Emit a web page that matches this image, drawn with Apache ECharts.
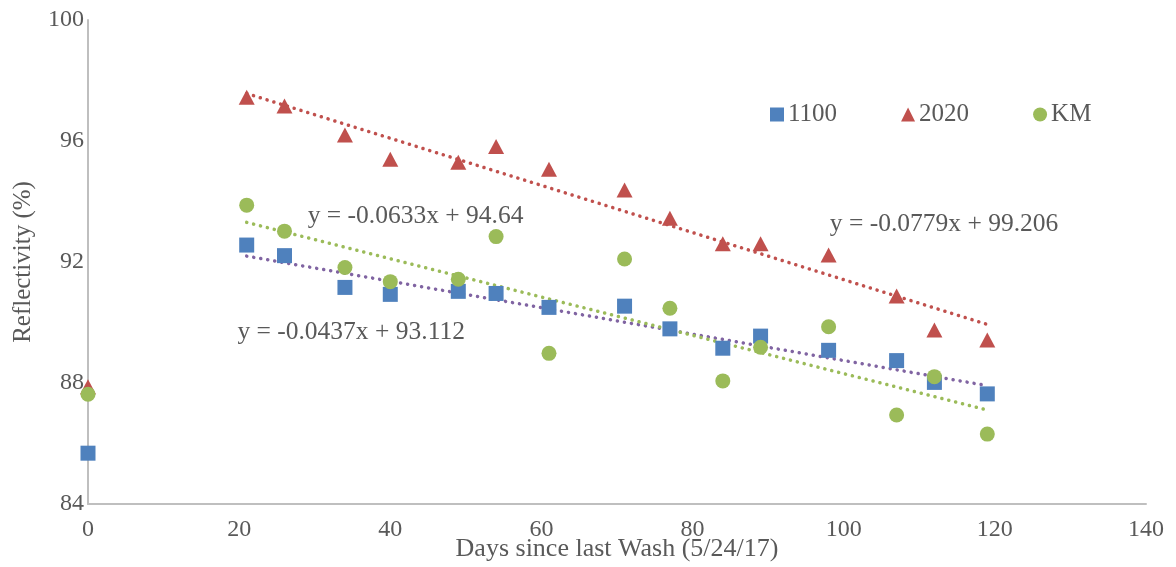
<!DOCTYPE html>
<html>
<head>
<meta charset="utf-8">
<script src="https://cdn.jsdelivr.net/npm/echarts@6/dist/echarts.min.js"></script>
<style>
  html, body { margin: 0; padding: 0; background: #fff; }
  #chart { width: 1176px; height: 567px; }
</style>
</head>
<body>
<div id="chart"></div>
<script>
// days since last wash
const days = [0, 21, 26, 34, 40, 49, 54, 61, 71, 77, 84, 89, 98, 107, 112, 119];

// reflectivity (%)
const r1100 = [85.68, 92.56, 92.21, 91.16, 90.93, 91.03, 90.96, 90.5, 90.54, 89.79, 89.15, 89.55, 89.08, 88.74, 88.02, 87.64];
const r2020 = [87.88, 97.45, 97.16, 96.2, 95.4, 95.3, 95.82, 95.07, 94.38, 93.45, 92.6, 92.6, 92.23, 90.88, 89.75, 89.42];
const rKM = [87.63, 93.88, 93.02, 91.82, 91.35, 91.43, 92.84, 88.98, 92.1, 90.47, 88.07, 89.18, 89.86, 86.94, 88.21, 86.31];

// linear fits as printed on the chart: [slope, intercept]
const fit1100 = [-0.0437, 93.112];
const fit2020 = [-0.0779, 99.206];
const fitKM = [-0.0633, 94.64];
const fitRange = [21, 119];

// equation labels: [x, y, text]
const eqLabels = [
  [29, 93.5, 'y = -0.0633x + 94.64'],
  [19.7, 89.68, 'y = -0.0437x + 93.112'],
  [98.1, 93.26, 'y = -0.0779x + 99.206'],
];

const FONT = '"Liberation Serif", "Times New Roman", serif';
const GREY = '#595959';

const pairs = (ys) => days.map((d, i) => [d, ys[i]]);
const fitLine = (f) => fitRange.map((x) => [x, +(f[0] * x + f[1]).toFixed(4)]);

function trend(name, f, color) {
  return {
    name,
    type: 'line',
    data: fitLine(f),
    symbol: 'none',
    silent: true,
    z: 1,
    lineStyle: { color, width: 3.5, type: [0.1, 7], cap: 'round' },
  };
}

function dots(name, ys, symbol, color) {
  return {
    name,
    type: 'scatter',
    data: pairs(ys),
    symbol,
    symbolSize: symbol === 'triangle' ? [16, 15] : 15,
    z: 3,
    itemStyle: { color, opacity: 1 },
  };
}

const chart = echarts.init(document.getElementById('chart'));

chart.setOption({
  animation: false,
  backgroundColor: '#fff',
  textStyle: { fontFamily: FONT },
  grid: { left: 88, right: 30, top: 20, bottom: 63, containLabel: false, outerBoundsMode: 'none' },
  legend: {
    data: [
      { name: '1100', icon: 'rect' },
      { name: '2020', icon: 'triangle' },
      { name: 'KM', icon: 'circle' },
    ],
    left: 765,
    top: 97,
    itemWidth: 14,
    itemHeight: 14,
    itemGap: 64,
    textStyle: { fontFamily: FONT, fontSize: 25, color: GREY, padding: [0, 0, 0, -1] },
  },
  xAxis: {
    type: 'value',
    min: 0,
    max: 140,
    interval: 20,
    name: 'Days since last Wash (5/24/17)',
    nameLocation: 'middle',
    nameGap: 32,
    nameMoveOverlap: false,
    nameTextStyle: { fontFamily: FONT, fontSize: 26, color: GREY },
    axisLine: { lineStyle: { color: '#BFBFBF', width: 2 } },
    axisTick: { show: false },
    splitLine: { show: false },
    axisLabel: { fontFamily: FONT, fontSize: 24, color: GREY, margin: 14 },
  },
  yAxis: {
    type: 'value',
    min: 84,
    max: 100,
    interval: 4,
    name: 'Reflectivity (%)',
    nameLocation: 'middle',
    nameGap: 52,
    nameMoveOverlap: false,
    nameTextStyle: { fontFamily: FONT, fontSize: 25, color: GREY },
    axisLine: { show: true, lineStyle: { color: '#BFBFBF', width: 2 } },
    axisTick: { show: false },
    splitLine: { show: false },
    axisLabel: { fontFamily: FONT, fontSize: 24, color: GREY, margin: 4 },
  },
  series: [
    trend('fit1100', fit1100, '#8064A2'),
    trend('fit2020', fit2020, '#C0504D'),
    trend('fitKM', fitKM, '#9BBB59'),
    dots('1100', r1100, 'rect', '#4F81BD'),
    dots('2020', r2020, 'triangle', '#C0504D'),
    dots('KM', rKM, 'circle', '#9BBB59'),
    {
      name: 'equations',
      type: 'scatter',
      symbol: 'circle',
      symbolSize: 1,
      silent: true,
      z: 5,
      itemStyle: { color: 'rgba(0,0,0,0)', opacity: 1 },
      data: eqLabels.map((e) => ({ value: [e[0], e[1]], text: e[2] })),
      label: {
        show: true,
        position: 'right',
        distance: 0,
        formatter: (p) => p.data.text,
        fontFamily: FONT,
        fontSize: 25.5,
        color: GREY,
      },
      labelLayout: { hideOverlap: false },
    },
  ],
});
</script>
</body>
</html>
